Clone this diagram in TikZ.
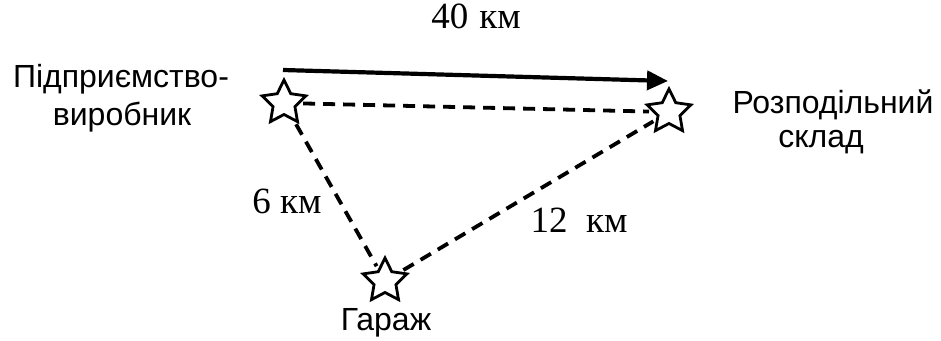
\documentclass[tikz,border=0pt]{standalone}
\usepackage{fontspec}
\setmainfont{Liberation Serif}
\setsansfont{Liberation Sans}
\usetikzlibrary{shapes.geometric,arrows.meta}
\begin{document}
\begin{tikzpicture}[x=1pt,y=-1pt,
  spot/.style={star,star points=5,star point ratio=2.0,draw,line width=2.8pt,minimum size=46pt,inner sep=0pt},
  road/.style={line width=3.8pt,dash pattern=on 12pt off 8pt,shorten <=3pt,shorten >=3pt},
  lbl/.style={font=\sffamily\fontsize{32}{36}\selectfont,anchor=base,inner sep=0pt},
  km/.style={font=\fontsize{37}{40}\selectfont,anchor=base,inner sep=0pt}]
\useasboundingbox (0,0) rectangle (941,340);
\node[spot] (P) at (284,103) {};
\node[spot] (R) at (669,112) {};
\node[spot] (G) at (385,281) {};
\coordinate (as) at (283,70);
\coordinate (ae) at (668,81);
\draw[line width=4.2pt,-{Triangle[length=21pt,width=19pt]}] (as) -- (ae);
\draw[road] (P) -- (R);
\draw[road] (P) -- (G);
\draw[road] (G) -- (R);
\node[lbl] (t1) at (121,87) {Підприємство-};
\node[lbl] (t2) at (122,125) {виробник};
\node[lbl] (t3) at (833,113) {Розподільний};
\node[lbl] (t4) at (821,147) {склад};
\node[lbl] (t5) at (386,330) {Гараж};
\node[km] (k1) at (476,28) {40\hspace{0.3em}км};
\node[km] (k2) at (287,213) {6 км};
\node[km] (k3) at (579,232) {12\hspace{0.5em}км};
\end{tikzpicture}
\end{document}
